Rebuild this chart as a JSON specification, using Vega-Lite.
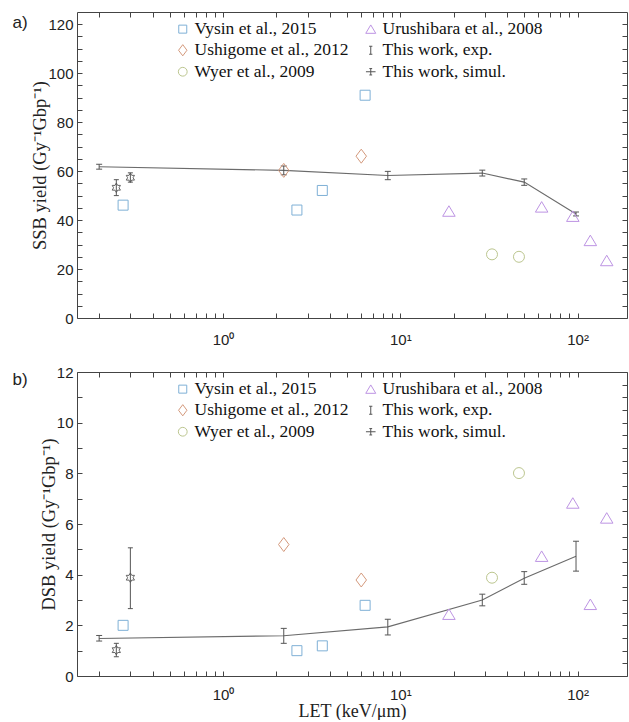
{
  "$schema": "https://vega.github.io/schema/vega-lite/v6.json",
  "padding": {"left": 12, "top": 11, "right": 1, "bottom": 0},
  "background": "white",
  "config": {
    "view": {"stroke": null},
    "concat": {"spacing": 18},
    "axis": {
      "grid": false,
      "domainColor": "#444",
      "domainWidth": 1,
      "tickColor": "#444",
      "tickSize": -5,
      "tickWidth": 1,
      "labelColor": "#222",
      "labelFont": "Liberation Sans",
      "labelFontSize": 15,
      "titleFont": "Liberation Serif",
      "titleFontSize": 18.5,
      "titleFontWeight": "normal",
      "titleColor": "#222"
    },
    "legend": {
      "labelFont": "Liberation Serif",
      "labelFontSize": 17.5,
      "labelColor": "#111",
      "symbolSize": 64,
      "symbolStrokeWidth": 1,
      "rowPadding": 2.5,
      "columnPadding": 13,
      "labelOffset": 3,
      "padding": 0
    }
  },
  "datasets": {
    "sim": [
      {"p": "a", "let": 0.2, "y": 61.8, "lo": 60.8, "hi": 62.8},
      {"p": "a", "let": 2.2, "y": 60.3, "lo": 58.5, "hi": 62.1},
      {"p": "a", "let": 8.5, "y": 58.2, "lo": 56.5, "hi": 59.9},
      {"p": "a", "let": 29, "y": 59.2, "lo": 58.0, "hi": 60.4},
      {"p": "a", "let": 50, "y": 55.5, "lo": 54.2, "hi": 56.8},
      {"p": "a", "let": 98, "y": 42.5, "lo": 41.7, "hi": 43.3},
      {"p": "b", "let": 0.2, "y": 1.48, "lo": 1.38, "hi": 1.6},
      {"p": "b", "let": 2.2, "y": 1.59, "lo": 1.29, "hi": 1.88},
      {"p": "b", "let": 8.5, "y": 1.94, "lo": 1.62, "hi": 2.24},
      {"p": "b", "let": 29, "y": 3.0, "lo": 2.77, "hi": 3.23},
      {"p": "b", "let": 50, "y": 3.86, "lo": 3.62, "hi": 4.12},
      {"p": "b", "let": 98, "y": 4.73, "lo": 4.14, "hi": 5.32}
    ],
    "exp": [
      {"p": "a", "let": 0.25, "y": 53.2, "lo": 50.0, "hi": 56.5},
      {"p": "a", "let": 0.3, "y": 57.3, "lo": 55.5, "hi": 59.3},
      {"p": "b", "let": 0.25, "y": 1.02, "lo": 0.76, "hi": 1.29},
      {"p": "b", "let": 0.3, "y": 3.88, "lo": 2.66, "hi": 5.06}
    ],
    "lit": [
      {"p": "a", "s": "Vysin et al., 2015", "let": 0.273, "y": 46.1},
      {"p": "a", "s": "Vysin et al., 2015", "let": 2.61, "y": 44.1},
      {"p": "a", "s": "Vysin et al., 2015", "let": 3.63, "y": 52.1},
      {"p": "a", "s": "Vysin et al., 2015", "let": 6.33, "y": 91.0},
      {"p": "a", "s": "Ushigome et al., 2012", "let": 2.2, "y": 60.3},
      {"p": "a", "s": "Ushigome et al., 2012", "let": 6.02, "y": 66.1},
      {"p": "a", "s": "Wyer et al., 2009", "let": 32.9, "y": 26.0},
      {"p": "a", "s": "Wyer et al., 2009", "let": 46.7, "y": 25.0},
      {"p": "a", "s": "Urushibara et al., 2008", "let": 18.8, "y": 43.7},
      {"p": "a", "s": "Urushibara et al., 2008", "let": 62.7, "y": 45.4},
      {"p": "a", "s": "Urushibara et al., 2008", "let": 94, "y": 41.6},
      {"p": "a", "s": "Urushibara et al., 2008", "let": 118, "y": 31.7},
      {"p": "a", "s": "Urushibara et al., 2008", "let": 146, "y": 23.5},
      {"p": "b", "s": "Vysin et al., 2015", "let": 0.273, "y": 2.0},
      {"p": "b", "s": "Vysin et al., 2015", "let": 2.61, "y": 1.0},
      {"p": "b", "s": "Vysin et al., 2015", "let": 3.63, "y": 1.19},
      {"p": "b", "s": "Vysin et al., 2015", "let": 6.33, "y": 2.79},
      {"p": "b", "s": "Ushigome et al., 2012", "let": 2.2, "y": 5.19},
      {"p": "b", "s": "Ushigome et al., 2012", "let": 6.02, "y": 3.79},
      {"p": "b", "s": "Wyer et al., 2009", "let": 32.9, "y": 3.88},
      {"p": "b", "s": "Wyer et al., 2009", "let": 46.7, "y": 8.01},
      {"p": "b", "s": "Urushibara et al., 2008", "let": 18.8, "y": 2.44},
      {"p": "b", "s": "Urushibara et al., 2008", "let": 62.7, "y": 4.73},
      {"p": "b", "s": "Urushibara et al., 2008", "let": 94, "y": 6.83},
      {"p": "b", "s": "Urushibara et al., 2008", "let": 118, "y": 2.83},
      {"p": "b", "s": "Urushibara et al., 2008", "let": 146, "y": 6.24}
    ],
    "tag": [
      {"p": "a", "t": "a)", "x": 0.065, "y": 120.4},
      {"p": "b", "t": "b)", "x": 0.065, "y": 11.68}
    ]
  },
  "vconcat": [
    {
      "width": 550,
      "height": 306,
      "resolve": {"axis": {"x": "independent", "y": "independent"}},
      "layer": [
        {
          "data": {"name": "sim"},
          "transform": [{"filter": "datum.p === 'a'"}],
          "mark": {"type": "line", "color": "#6b6b6b", "strokeWidth": 1.1},
          "encoding": {
            "x": {"field": "let", "type": "quantitative",
              "scale": {"type": "log", "domain": [0.15, 190], "nice": false},
              "axis": {"orient": "bottom", "title": null,
                "values": [0.2,0.3,0.4,0.5,0.6,0.7,0.8,0.9,1,2,3,4,5,6,7,8,9,10,20,30,40,50,60,70,80,90,100],
                "labelExpr": "datum.value == 1 ? '10⁰' : datum.value == 10 ? '10¹' : datum.value == 100 ? '10²' : ''",
                "labelPadding": 19}},
            "y": {"field": "y", "type": "quantitative",
              "scale": {"domain": [0, 125], "nice": false, "zero": false},
              "axis": {"orient": "left", "title": "SSB yield (Gy⁻¹Gbp⁻¹)", "titlePadding": -2,
                "values": [0,5,10,15,20,25,30,35,40,45,50,55,60,65,70,75,80,85,90,95,100,105,110,115,120],
                "format": "d",
                "labelExpr": "datum.value % 20 === 0 ? datum.label : ''",
                "labelPadding": 9}}
          }
        },
        {
          "data": {"name": "sim"},
          "transform": [{"filter": "datum.p === 'a'"}],
          "mark": {"type": "rule", "color": "#555", "strokeWidth": 1},
          "encoding": {
            "x": {"field": "let", "type": "quantitative", "axis": null},
            "y": {"field": "lo", "type": "quantitative", "axis": null},
            "y2": {"field": "hi"}
          }
        },
        {
          "data": {"name": "sim"},
          "transform": [{"filter": "datum.p === 'a'"}],
          "mark": {"type": "tick", "orient": "horizontal", "size": 6, "thickness": 1, "color": "#555", "opacity": 1},
          "encoding": {
            "x": {"field": "let", "type": "quantitative", "axis": null},
            "y": {"field": "lo", "type": "quantitative", "axis": null}
          }
        },
        {
          "data": {"name": "sim"},
          "transform": [{"filter": "datum.p === 'a'"}],
          "mark": {"type": "tick", "orient": "horizontal", "size": 6, "thickness": 1, "color": "#555", "opacity": 1},
          "encoding": {
            "x": {"field": "let", "type": "quantitative", "axis": null},
            "y": {"field": "hi", "type": "quantitative", "axis": null}
          }
        },
        {
          "data": {"name": "exp"},
          "transform": [{"filter": "datum.p === 'a'"}],
          "mark": {"type": "rule", "color": "#555", "strokeWidth": 1},
          "encoding": {
            "x": {"field": "let", "type": "quantitative", "axis": null},
            "y": {"field": "lo", "type": "quantitative", "axis": null},
            "y2": {"field": "hi"}
          }
        },
        {
          "data": {"name": "exp"},
          "transform": [{"filter": "datum.p === 'a'"}],
          "mark": {"type": "tick", "orient": "horizontal", "size": 5, "thickness": 1, "color": "#555", "opacity": 1},
          "encoding": {
            "x": {"field": "let", "type": "quantitative", "axis": null},
            "y": {"field": "lo", "type": "quantitative", "axis": null}
          }
        },
        {
          "data": {"name": "exp"},
          "transform": [{"filter": "datum.p === 'a'"}],
          "mark": {"type": "tick", "orient": "horizontal", "size": 5, "thickness": 1, "color": "#555", "opacity": 1},
          "encoding": {
            "x": {"field": "let", "type": "quantitative", "axis": null},
            "y": {"field": "hi", "type": "quantitative", "axis": null}
          }
        },
        {
          "data": {"name": "exp"},
          "transform": [{"filter": "datum.p === 'a'"}],
          "mark": {"type": "point", "filled": false, "opacity": 1, "size": 90, "strokeWidth": 0.9, "color": "#555",
            "shape": "M0,-1L0.289,-0.5L0.866,-0.5L0.577,0L0.866,0.5L0.289,0.5L0,1L-0.289,0.5L-0.866,0.5L-0.577,0L-0.866,-0.5L-0.289,-0.5Z"},
          "encoding": {
            "x": {"field": "let", "type": "quantitative", "axis": null},
            "y": {"field": "y", "type": "quantitative", "axis": null}
          }
        },
        {
          "data": {"name": "lit"},
          "transform": [{"filter": "datum.p === 'a'"}],
          "mark": {"type": "point", "filled": false, "opacity": 1, "size": 100, "strokeWidth": 1},
          "encoding": {
            "x": {"field": "let", "type": "quantitative",
              "axis": {"orient": "top", "labels": false, "title": null,
                "values": [0.2,0.3,0.4,0.5,0.6,0.7,0.8,0.9,1,2,3,4,5,6,7,8,9,10,20,30,40,50,60,70,80,90,100]}},
            "y": {"field": "y", "type": "quantitative",
              "axis": {"orient": "right", "labels": false, "title": null,
                "values": [0,5,10,15,20,25,30,35,40,45,50,55,60,65,70,75,80,85,90,95,100,105,110,115,120]}},
            "color": {"field": "s", "type": "nominal",
              "scale": {"domain": ["Vysin et al., 2015", "Ushigome et al., 2012", "Wyer et al., 2009", "Urushibara et al., 2008", "This work, exp.", "This work, simul."],
                "range": ["#7fb0d6", "#d4997c", "#bcc68f", "#bd94e3", "#555555", "#555555"]},
              "legend": {"orient": "none", "legendX": 97, "legendY": 8, "columns": 2, "title": null, "padding": 0,
                "labelFont": "Liberation Serif", "labelFontSize": 17.5, "labelColor": "#111", "symbolSize": 64,
                "symbolStrokeWidth": 1, "rowPadding": 2.5, "columnPadding": 13, "labelOffset": 3}},
            "shape": {"field": "s", "type": "nominal",
              "scale": {"domain": ["Vysin et al., 2015", "Ushigome et al., 2012", "Wyer et al., 2009", "Urushibara et al., 2008", "This work, exp.", "This work, simul."],
                "range": ["M-1,-1H1V1H-1Z", "M0,-1.4L1.05,0L0,1.4L-1.05,0Z", "M1.1,0A1.1,1.1,0,1,1,-1.1,0A1.1,1.1,0,1,1,1.1,0Z", "M0,-1.05L1.25,1.05L-1.25,1.05Z", "M0,-1V1M-0.4,-1H0.4M-0.4,1H0.4", "M-1.2,0H1.2M0,-0.8V0.8M-0.35,-0.8H0.35M-0.35,0.8H0.35"]},
              "legend": {"orient": "none", "legendX": 97, "legendY": 8, "columns": 2, "title": null, "padding": 0,
                "labelFont": "Liberation Serif", "labelFontSize": 17.5, "labelColor": "#111", "symbolSize": 64,
                "symbolStrokeWidth": 1, "rowPadding": 2.5, "columnPadding": 13, "labelOffset": 3}}
          }
        },
        {
          "data": {"name": "tag"},
          "transform": [{"filter": "datum.p === 'a'"}],
          "mark": {"type": "text", "align": "left", "baseline": "middle", "font": "Liberation Sans", "fontSize": 17, "color": "#222"},
          "encoding": {
            "x": {"field": "x", "type": "quantitative", "axis": null},
            "y": {"field": "y", "type": "quantitative", "axis": null},
            "text": {"field": "t"}
          }
        }
      ]
    },
    {
      "width": 550,
      "height": 304,
      "resolve": {"axis": {"x": "independent", "y": "independent"}},
      "layer": [
        {
          "data": {"name": "sim"},
          "transform": [{"filter": "datum.p === 'b'"}],
          "mark": {"type": "line", "color": "#6b6b6b", "strokeWidth": 1.1},
          "encoding": {
            "x": {"field": "let", "type": "quantitative",
              "scale": {"type": "log", "domain": [0.15, 190], "nice": false},
              "axis": {"orient": "bottom", "title": "LET (keV/μm)", "titlePadding": 0, "titleFontSize": 18,
                "values": [0.2,0.3,0.4,0.5,0.6,0.7,0.8,0.9,1,2,3,4,5,6,7,8,9,10,20,30,40,50,60,70,80,90,100],
                "labelExpr": "datum.value == 1 ? '10⁰' : datum.value == 10 ? '10¹' : datum.value == 100 ? '10²' : ''",
                "labelPadding": 16}},
            "y": {"field": "y", "type": "quantitative",
              "scale": {"domain": [0, 12], "nice": false, "zero": false},
              "axis": {"orient": "left", "title": "DSB yield (Gy⁻¹Gbp⁻¹)", "titlePadding": -2,
                "values": [0,0.5,1,1.5,2,2.5,3,3.5,4,4.5,5,5.5,6,6.5,7,7.5,8,8.5,9,9.5,10,10.5,11,11.5,12],
                "format": "d",
                "labelExpr": "datum.value % 2 === 0 ? datum.label : ''",
                "labelPadding": 9}}
          }
        },
        {
          "data": {"name": "sim"},
          "transform": [{"filter": "datum.p === 'b'"}],
          "mark": {"type": "rule", "color": "#555", "strokeWidth": 1},
          "encoding": {
            "x": {"field": "let", "type": "quantitative", "axis": null},
            "y": {"field": "lo", "type": "quantitative", "axis": null},
            "y2": {"field": "hi"}
          }
        },
        {
          "data": {"name": "sim"},
          "transform": [{"filter": "datum.p === 'b'"}],
          "mark": {"type": "tick", "orient": "horizontal", "size": 6, "thickness": 1, "color": "#555", "opacity": 1},
          "encoding": {
            "x": {"field": "let", "type": "quantitative", "axis": null},
            "y": {"field": "lo", "type": "quantitative", "axis": null}
          }
        },
        {
          "data": {"name": "sim"},
          "transform": [{"filter": "datum.p === 'b'"}],
          "mark": {"type": "tick", "orient": "horizontal", "size": 6, "thickness": 1, "color": "#555", "opacity": 1},
          "encoding": {
            "x": {"field": "let", "type": "quantitative", "axis": null},
            "y": {"field": "hi", "type": "quantitative", "axis": null}
          }
        },
        {
          "data": {"name": "exp"},
          "transform": [{"filter": "datum.p === 'b'"}],
          "mark": {"type": "rule", "color": "#555", "strokeWidth": 1},
          "encoding": {
            "x": {"field": "let", "type": "quantitative", "axis": null},
            "y": {"field": "lo", "type": "quantitative", "axis": null},
            "y2": {"field": "hi"}
          }
        },
        {
          "data": {"name": "exp"},
          "transform": [{"filter": "datum.p === 'b'"}],
          "mark": {"type": "tick", "orient": "horizontal", "size": 5, "thickness": 1, "color": "#555", "opacity": 1},
          "encoding": {
            "x": {"field": "let", "type": "quantitative", "axis": null},
            "y": {"field": "lo", "type": "quantitative", "axis": null}
          }
        },
        {
          "data": {"name": "exp"},
          "transform": [{"filter": "datum.p === 'b'"}],
          "mark": {"type": "tick", "orient": "horizontal", "size": 5, "thickness": 1, "color": "#555", "opacity": 1},
          "encoding": {
            "x": {"field": "let", "type": "quantitative", "axis": null},
            "y": {"field": "hi", "type": "quantitative", "axis": null}
          }
        },
        {
          "data": {"name": "exp"},
          "transform": [{"filter": "datum.p === 'b'"}],
          "mark": {"type": "point", "filled": false, "opacity": 1, "size": 90, "strokeWidth": 0.9, "color": "#555",
            "shape": "M0,-1L0.289,-0.5L0.866,-0.5L0.577,0L0.866,0.5L0.289,0.5L0,1L-0.289,0.5L-0.866,0.5L-0.577,0L-0.866,-0.5L-0.289,-0.5Z"},
          "encoding": {
            "x": {"field": "let", "type": "quantitative", "axis": null},
            "y": {"field": "y", "type": "quantitative", "axis": null}
          }
        },
        {
          "data": {"name": "lit"},
          "transform": [{"filter": "datum.p === 'b'"}],
          "mark": {"type": "point", "filled": false, "opacity": 1, "size": 100, "strokeWidth": 1},
          "encoding": {
            "x": {"field": "let", "type": "quantitative",
              "axis": {"orient": "top", "labels": false, "title": null,
                "values": [0.2,0.3,0.4,0.5,0.6,0.7,0.8,0.9,1,2,3,4,5,6,7,8,9,10,20,30,40,50,60,70,80,90,100]}},
            "y": {"field": "y", "type": "quantitative",
              "axis": {"orient": "right", "labels": false, "title": null,
                "values": [0,0.5,1,1.5,2,2.5,3,3.5,4,4.5,5,5.5,6,6.5,7,7.5,8,8.5,9,9.5,10,10.5,11,11.5,12]}},
            "color": {"field": "s", "type": "nominal",
              "scale": {"domain": ["Vysin et al., 2015", "Ushigome et al., 2012", "Wyer et al., 2009", "Urushibara et al., 2008", "This work, exp.", "This work, simul."],
                "range": ["#7fb0d6", "#d4997c", "#bcc68f", "#bd94e3", "#555555", "#555555"]},
              "legend": {"orient": "none", "legendX": 97, "legendY": 8, "columns": 2, "title": null, "padding": 0,
                "labelFont": "Liberation Serif", "labelFontSize": 17.5, "labelColor": "#111", "symbolSize": 64,
                "symbolStrokeWidth": 1, "rowPadding": 2.5, "columnPadding": 13, "labelOffset": 3}},
            "shape": {"field": "s", "type": "nominal",
              "scale": {"domain": ["Vysin et al., 2015", "Ushigome et al., 2012", "Wyer et al., 2009", "Urushibara et al., 2008", "This work, exp.", "This work, simul."],
                "range": ["M-1,-1H1V1H-1Z", "M0,-1.4L1.05,0L0,1.4L-1.05,0Z", "M1.1,0A1.1,1.1,0,1,1,-1.1,0A1.1,1.1,0,1,1,1.1,0Z", "M0,-1.05L1.25,1.05L-1.25,1.05Z", "M0,-1V1M-0.4,-1H0.4M-0.4,1H0.4", "M-1.2,0H1.2M0,-0.8V0.8M-0.35,-0.8H0.35M-0.35,0.8H0.35"]},
              "legend": {"orient": "none", "legendX": 97, "legendY": 8, "columns": 2, "title": null, "padding": 0,
                "labelFont": "Liberation Serif", "labelFontSize": 17.5, "labelColor": "#111", "symbolSize": 64,
                "symbolStrokeWidth": 1, "rowPadding": 2.5, "columnPadding": 13, "labelOffset": 3}}
          }
        },
        {
          "data": {"name": "tag"},
          "transform": [{"filter": "datum.p === 'b'"}],
          "mark": {"type": "text", "align": "left", "baseline": "middle", "font": "Liberation Sans", "fontSize": 17, "color": "#222"},
          "encoding": {
            "x": {"field": "x", "type": "quantitative", "axis": null},
            "y": {"field": "y", "type": "quantitative", "axis": null},
            "text": {"field": "t"}
          }
        }
      ]
    }
  ],
  "resolve": {
    "scale": {"color": "independent", "shape": "independent"},
    "legend": {"color": "independent", "shape": "independent"}
  }
}
